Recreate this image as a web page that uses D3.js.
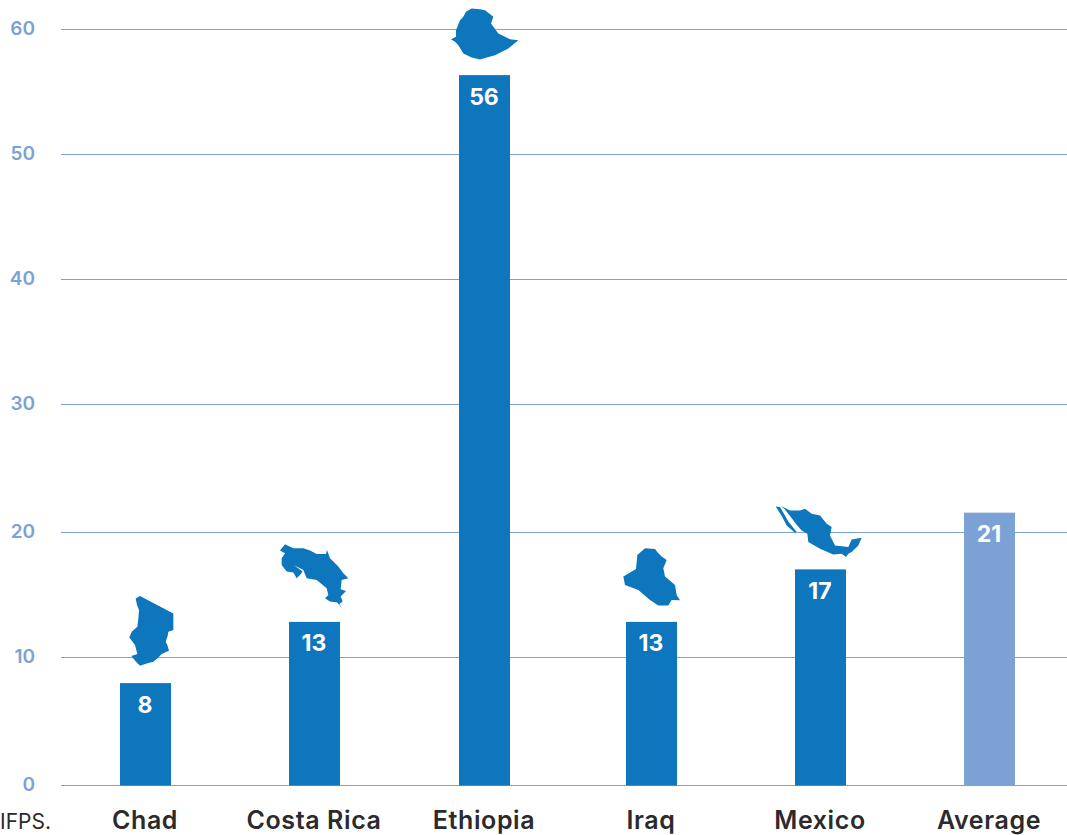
<!DOCTYPE html>
<html><head><meta charset="utf-8">
<script src="https://cdn.jsdelivr.net/npm/d3@7/dist/d3.min.js"></script>
<style>html,body{margin:0;padding:0;background:#fff;overflow:hidden}svg{display:block;font-family:Inter,sans-serif}</style>
</head><body><svg id="c" width="1067" height="835"></svg>
<script>
const categories = ["Chad","Costa Rica","Ethiopia","Iraq","Mexico","Average"];
const values = [8,12.85,56.35,12.85,17.05,21.55];
const valueLabels = ["8","13","56","13","17","21"];
const yTicks = [0,10,20,30,40,50,60];
const yTickPixels = [785.5,657.5,532.5,404.5,279.5,154.5,29.5];
const categoryCentres = [145.5,314.5,484.5,651.5,820.5,989.5];
const sourceNote = "IFPS.";
const BLUE="#0d76bd", LIGHT="#7ca1d5", DARK="#2b2a2c", BAR_W=51;
// country silhouettes: [offset from bar anchor x, y], then rings in 1/3 px units
const outlines = {
 "Chad":[[-45.5,-153],[[[107,205],[120,198],[220,250],[220,300],[205,305],[203,318],[197,335],[202,345],[207,362],[185,372],[172,385],[160,395],[140,400],[120,407],[108,395],[94,378],[112,372],[105,345],[88,322],[95,305],[112,290],[115,265],[117,240],[111,225]]]],
 "Costa Rica":[[-214.5,-92],[[[540,62],[555,43],[580,55],[610,55],[630,62],[650,72],[678,72],[681,60],[690,85],[715,110],[730,130],[745,145],[725,150],[722,178],[738,183],[722,200],[728,215],[718,222],[728,238],[712,218],[690,215],[675,205],[685,195],[680,175],[650,150],[620,145],[610,120],[582,106],[608,125],[600,135],[590,145],[580,128],[560,125],[545,105],[545,85],[555,70]]]],
 "Ethiopia":[[-54.5,-75],[[[63,117],[78,110],[78,90],[90,60],[100,50],[108,35],[125,25],[150,27],[165,30],[190,50],[183,70],[205,100],[240,117],[265,120],[235,145],[195,165],[170,172],[150,178],[125,172],[100,160],[85,135],[75,125]]]],
 "Iraq":[[-51.5,-127],[[[70,245],[108,222],[112,180],[135,160],[165,162],[175,175],[185,185],[200,195],[190,220],[195,245],[225,270],[230,300],[240,316],[215,315],[205,332],[175,332],[150,315],[115,285],[75,270]]]],
 "Mexico":[[-220.5,-74],[[[543,32],[570,45],[600,45],[615,40],[635,55],[660,60],[680,85],[695,95],[690,120],[705,150],[745,155],[755,132],[785,127],[775,150],[755,170],[745,175],[738,185],[725,175],[700,177],[660,160],[625,140],[622,115],[605,105],[590,88],[570,62],[555,42]],[[527,33],[540,35],[548,48],[565,78],[590,110],[585,112],[560,90],[545,62]]]]
};
const svg=d3.select("#c");
const x=d3.scaleOrdinal().domain(categories).range(categoryCentres);
const y=d3.scaleLinear().domain(yTicks).range(yTickPixels);
const yAxis=d3.axisLeft(y).tickValues(yTicks).tickSize(0).tickPadding(0);
const gy=svg.append("g").attr("transform","translate(35,-1.5)").call(yAxis);
gy.select(".domain").remove();
gy.selectAll("text").attr("fill",LIGHT).attr("dy","0.36em").style("font-family","Inter,sans-serif").style("font-size","19px").style("font-weight",600);
svg.append("g").selectAll("line").data(yTicks).join("line")
 .attr("x1",61).attr("x2",1067).attr("y1",d=>y(d)).attr("y2",d=>y(d))
 .attr("stroke",LIGHT).attr("stroke-width",1);
const data=categories.map((c,i)=>({c,v:values[i],l:valueLabels[i]}));
svg.append("g").selectAll("rect").data(data).join("rect")
 .attr("x",d=>x(d.c)-BAR_W/2).attr("width",BAR_W).attr("y",d=>y(d.v)).attr("height",d=>y(0)-y(d.v))
 .attr("fill",d=>d.c==="Average"?LIGHT:BLUE);
const line=d3.line().curve(d3.curveLinearClosed);
svg.append("g").selectAll("path").data(data.filter(d=>outlines[d.c])).join("path")
 .attr("fill",BLUE)
 .attr("transform",d=>{const o=outlines[d.c][0];return `translate(${x(d.c)+o[0]},${y(d.v)+o[1]}) scale(${1/3})`;})
 .attr("d",d=>outlines[d.c][1].map(r=>line(r)).join(""));
svg.append("g").selectAll("text").data(data).join("text")
 .attr("x",d=>x(d.c)-0.5).attr("y",d=>y(d.v)+29.5).attr("text-anchor","middle")
 .attr("fill","#fff").style("font-size","23px").style("font-weight",700).text(d=>d.l);
svg.append("g").selectAll("text").data(categories).join("text")
 .attr("x",d=>x(d)-0.5).attr("y",828.5).attr("text-anchor","middle")
 .attr("fill",DARK).style("font-size","25px").style("font-weight",600).style("letter-spacing","0.6px").text(d=>d);
svg.append("text").attr("x",51).attr("y",828.5).attr("text-anchor","end").attr("fill",DARK).style("font-size","21px").text(sourceNote);
</script></body></html>
